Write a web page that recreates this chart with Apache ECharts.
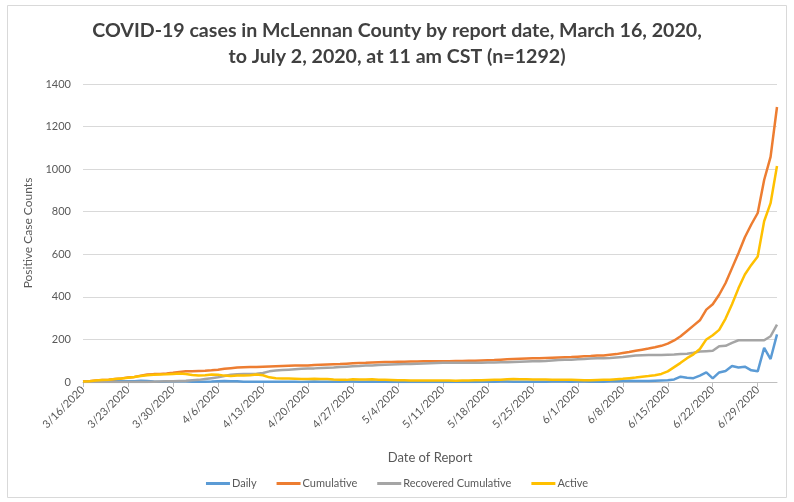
<!DOCTYPE html>
<html>
<head>
<meta charset="utf-8">
<title>COVID-19 McLennan County</title>
<script src="https://cdn.jsdelivr.net/npm/echarts@6/dist/echarts.min.js"></script>
<style>
  body { margin: 0; background: #fff; }
  #chart { width: 794px; height: 502px; }
</style>
</head>
<body>
<div id="chart"></div>
<script>
// report dates, 3/16/2020 .. 7/2/2020 (one per day)
var monthDays = [[3, 16, 31], [4, 1, 30], [5, 1, 31], [6, 1, 30], [7, 1, 2]];
var dates = [];
monthDays.forEach(function (m) {
  for (var d = m[1]; d <= m[2]; d++) dates.push(m[0] + "/" + d + "/2020");
});

// values
var daily = [
  1, 2, 3, 2, 2, 3, 3, 4, 3, 6, 5, 2, 1, 2, 3, 4, 3, 1, 1, 1,
  2, 4, 5, 3, 3, 1, 1, 1, 1, 1, 1, 1, 1, 1, 0, 1, 2, 1, 1, 1,
  1, 2, 2, 1, 1, 2, 1, 1, 0, 1, 0, 1, 0, 1, 0, 1, 0, 0, 1, 0,
  1, 0, 1, 1, 1, 2, 2, 1, 1, 1, 1, 1, 1, 2, 2, 2, 1, 2, 2, 1,
  2, 1, 3, 3, 5, 6, 5, 5, 5, 6, 7, 8, 12, 25, 20, 18, 30, 45, 17, 45,
  52, 75, 68, 72, 55, 50, 160, 108, 224
];
var cumulative = [
  2, 4, 7, 9, 11, 14, 17, 21, 24, 30, 35, 37, 38, 40, 43, 47, 50, 51, 52, 53,
  55, 58, 62, 65, 68, 69, 70, 71, 72, 73, 74, 75, 76, 77, 77, 78, 80, 81, 82, 83,
  84, 86, 88, 89, 90, 92, 93, 94, 94, 95, 95, 96, 96, 97, 97, 98, 98, 98, 99, 99,
  100, 100, 101, 102, 103, 105, 107, 108, 109, 110, 111, 112, 113, 114, 115, 116, 117, 119, 121, 122,
  124, 125, 128, 131, 136, 141, 147, 152, 157, 163, 170, 180, 195, 215, 240, 265, 290, 340, 365, 410,
  465, 535, 605, 680, 740, 794, 949, 1058, 1292
];
var recovered = [
  0, 0, 0, 0, 0, 0, 0, 0, 0, 0, 0, 1, 2, 3, 4, 5, 6, 8, 10, 14,
  18, 22, 28, 34, 36, 37, 38, 39, 42, 50, 54, 56, 58, 60, 62, 63, 64, 66, 67, 68,
  70, 72, 74, 75, 77, 78, 80, 81, 82, 83, 84, 85, 86, 87, 88, 89, 90, 90, 91, 91,
  91, 91, 91, 92, 92, 93, 93, 94, 95, 96, 97, 98, 99, 101, 103, 104, 105, 107, 108, 110,
  111, 112, 113, 115, 117, 121, 124, 126, 127, 127, 127, 128, 129, 131, 133, 137, 143, 145, 147, 168,
  170, 184, 196, 196, 196, 196, 196, 215, 270
];
var active = [
  2, 4, 7, 9, 11, 14, 17, 20, 23, 28, 32, 34, 35, 36, 38, 40, 38, 33, 30, 32,
  35, 34, 30, 28, 30, 30, 32, 35, 32, 22, 18, 17, 16, 15, 14, 14, 15, 14, 14, 12,
  11, 10, 13, 12, 12, 13, 11, 10, 9, 8, 8, 7, 7, 7, 7, 7, 7, 7, 6, 7,
  7, 8, 8, 9, 10, 11, 13, 14, 13, 13, 12, 12, 12, 11, 10, 10, 10, 9, 8, 8,
  9, 10, 11, 13, 15, 18, 21, 25, 28, 32, 38, 50, 70, 90, 112, 130, 155, 200, 220, 245,
  298, 365, 440, 505, 550, 590, 755, 840, 1015
];

var seriesNames = ["Daily", "Cumulative", "Recovered Cumulative", "Active"];
var seriesColors = ["#5B9BD5", "#ED7D31", "#A5A5A5", "#FFC000"];
var seriesData = [daily, cumulative, recovered, active];

var myChart = echarts.init(document.getElementById("chart"));

var series = [];
for (var i = 0; i < seriesNames.length; i++) {
  series.push({
    name: seriesNames[i],
    type: "line",
    data: seriesData[i],
    symbol: "none",
    itemStyle: { color: seriesColors[i] },
    lineStyle: { width: 2.5, color: seriesColors[i] }
  });
}

var option = {
  backgroundColor: "#fff",
  animation: false,
  graphic: [
    {
      type: "rect",
      shape: { x: 7.5, y: 5.5, width: 779, height: 492 },
      style: { fill: "none", stroke: "#D9D9D9", lineWidth: 1 }
    }
  ],
  title: {
    text: "COVID-19 cases in McLennan County by report date, March 16, 2020,\nto July 2, 2020, at 11 am CST (n=1292)",
    left: "center",
    top: 13,
    padding: [5, 0, 5, 20],
    textStyle: {
      fontFamily: "Lato",
      fontSize: 19.6,
      fontWeight: "bold",
      color: "#404040",
      lineHeight: 26
    }
  },
  legend: {
    data: seriesNames,
    bottom: 8,
    left: "center",
    icon: "rect",
    itemWidth: 24,
    itemHeight: 3,
    itemGap: 20,
    textStyle: { fontFamily: "Lato", fontSize: 11, color: "#595959", padding: [0, 0, 0, -3] }
  },
  grid: { left: 83, right: 17, top: 84, bottom: 120 },
  xAxis: {
    type: "category",
    data: dates,
    boundaryGap: false,
    name: "Date of Report",
    nameLocation: "middle",
    nameGap: 69,
    nameTextStyle: { fontFamily: "Lato", fontSize: 13, color: "#595959" },
    axisLine: { lineStyle: { color: "#BFBFBF", width: 1 } },
    axisTick: { interval: 6, length: 5, lineStyle: { color: "#BFBFBF" } },
    axisLabel: {
      interval: 6,
      rotate: 45,
      fontFamily: "Lato",
      fontSize: 11,
      color: "#595959",
      margin: 6
    }
  },
  yAxis: {
    type: "value",
    min: 0,
    max: 1400,
    interval: 200,
    name: "Positive Case Counts",
    nameLocation: "middle",
    nameGap: 43,
    nameTextStyle: { fontFamily: "Lato", fontSize: 12, color: "#595959" },
    axisLine: { show: false },
    axisTick: { show: false },
    axisLabel: {
      fontFamily: "Lato",
      fontSize: 11,
      color: "#595959",
      margin: 12,
      formatter: function (v) { return String(v); }
    },
    splitLine: { lineStyle: { color: "#D9D9D9", width: 1 } }
  },
  series: series
};

myChart.setOption(option);
</script>
</body>
</html>
